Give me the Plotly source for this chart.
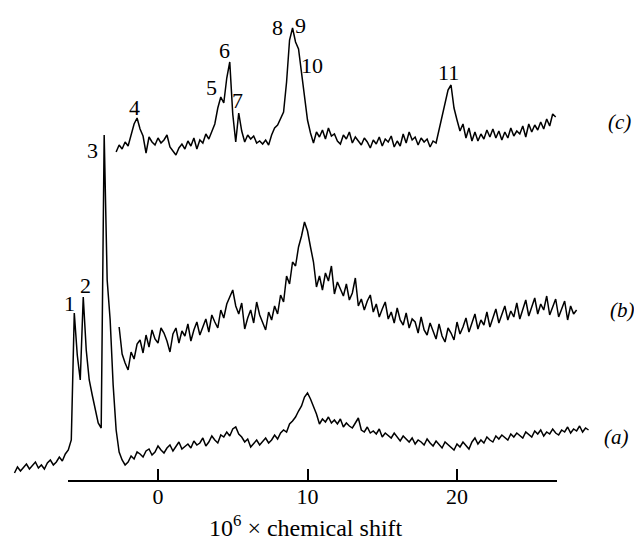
import plotly.graph_objects as go

# 10^6 x chemical shift sampling: start and step (ppm) for each recorded spectrum
a_start, a_step = -9.6, 0.2
b_start, b_step = -2.6, 0.2
c_start, c_step = -2.8, 0.2

# spectrum (a) intensity (arbitrary units, incl. vertical offset)
spec_a = [7, 13, 9, 12, 16, 11, 14, 18, 12, 15, 11, 17, 20, 15, 18, 23, 19, 26, 30, 40,
          167, 125, 100, 183, 130, 100, 85, 72, 57, 52, 345, 200, 160, 95, 50, 28,
          20, 15, 18, 24, 21, 28, 26, 23, 29, 31, 25, 28, 34, 30, 27, 32, 35, 29, 33, 38,
          31, 34, 36, 32, 39, 35, 37, 42, 34, 38, 44, 40, 37, 45, 43, 48, 44, 51, 53, 46,
          43, 38, 41, 33, 37, 40, 35, 38, 42, 37, 40, 45, 41, 47, 50, 48, 56, 59, 63, 69,
          74, 83, 87, 81, 74, 66, 56, 61, 58, 63, 57, 60, 56, 61, 53, 57, 54, 52, 57, 62,
          50, 48, 53, 47, 49, 46, 51, 43, 47, 44, 42, 47, 43, 39, 44, 41, 38, 42, 36, 40,
          38, 35, 41, 37, 34, 39, 36, 32, 38, 35, 33, 30, 36, 33, 38, 35, 31, 38, 42, 36,
          40, 37, 43, 40, 38, 44, 41, 45, 42, 40, 46, 43, 47, 44, 42, 48, 45, 43, 49, 46,
          50, 44, 48, 46, 51, 47, 45, 50, 48, 53, 47, 51, 49, 54, 48, 52, 50]

# spectrum (b)
spec_b = [153, 126, 117, 110, 128, 121, 136, 140, 127, 145, 133, 150, 141, 137, 152, 147,
          139, 128, 146, 152, 137, 149, 144, 156, 139, 150, 158, 145, 153, 161, 148, 165,
          158, 152, 170, 162, 176, 184, 190, 174, 166, 177, 151, 162, 170, 157, 178, 165,
          158, 150, 168, 160, 174, 166, 185, 178, 204, 196, 218, 214, 233, 244, 258, 249,
          233, 218, 193, 204, 190, 207, 199, 214, 186, 198, 191, 184, 196, 180, 187, 202,
          174, 181, 170, 179, 185, 168, 176, 163, 171, 178, 161, 168, 157, 172, 160, 155,
          167, 152, 161, 158, 147, 163, 150, 145, 157, 149, 141, 156, 144, 138, 152, 147,
          140, 158, 146, 153, 162, 148, 157, 166, 151, 160, 155, 168, 153, 162, 171, 157,
          165, 174, 160, 169, 163, 177, 161, 170, 180, 164, 173, 182, 166, 176, 170, 184,
          165, 174, 181, 163, 172, 179, 160, 174, 166, 170]

# spectrum (c)
spec_c = [328, 335, 331, 338, 334, 346, 356, 362, 351, 344, 327, 343, 338, 335, 342, 337,
          340, 345, 333, 329, 325, 332, 336, 331, 339, 334, 342, 331, 340, 337, 346, 341,
          349, 356, 372, 383, 377, 402, 418, 366, 338, 367, 349, 338, 345, 341, 344, 337,
          339, 336, 340, 335, 345, 352, 355, 361, 368, 398, 440, 452, 438, 431, 408, 380,
          360, 347, 337, 348, 343, 350, 341, 352, 344, 346, 339, 336, 345, 341, 348, 337,
          343, 339, 335, 342, 338, 332, 340, 336, 343, 334, 341, 338, 344, 333, 339, 334,
          346, 337, 348, 340, 343, 335, 342, 338, 341, 333, 339, 337, 350, 364, 378, 390,
          395, 372, 360, 349, 356, 342, 352, 339, 348, 339, 346, 341, 350, 343, 351, 342,
          349, 340, 348, 342, 352, 344, 349, 346, 354, 343, 356, 348, 355, 350, 358, 351,
          361, 354, 366, 363]

# peak numbers and their label positions (ppm, intensity)
peak_labels = ["1", "2", "3", "4", "5", "6", "7", "8", "9", "10", "11"]
peak_x = [-5.89, -4.88, -4.35, -1.54, 3.61, 4.48, 5.35, 7.96, 9.5, 10.3, 19.46]
peak_y = [177, 195, 330, 373, 393, 430, 380, 453, 455, 415, 408]

series_labels = ["(a)", "(b)", "(c)"]
series_label_x = [30.7, 31.04, 30.84]
series_label_y = [43, 170, 358]

tick_vals = [0, 10, 20]
tick_text = ["0", "10", "20"]

W, H = 634, 540
PX0, PX_PER = 158.0, 14.95   # position of 0 and pixels per unit
AX_L, AX_R = 68, 557          # drawn axis extent (pixels)
BOTTOM = 60

SERIF = "Liberation Serif, Times New Roman, serif"

fig = go.Figure()
line = dict(color="black", width=1.5)
fig.add_trace(go.Scatter(y=spec_a, x0=a_start, dx=a_step, mode="lines", line=line,
                         xaxis="x2", yaxis="y", showlegend=False, hoverinfo="skip"))
fig.add_trace(go.Scatter(y=spec_b, x0=b_start, dx=b_step, mode="lines", line=line,
                         xaxis="x2", yaxis="y", showlegend=False, hoverinfo="skip"))
fig.add_trace(go.Scatter(y=spec_c, x0=c_start, dx=c_step, mode="lines", line=line,
                         xaxis="x2", yaxis="y", showlegend=False, hoverinfo="skip"))
# invisible traces so the drawn axes are rendered
for ax in ["x", "x3"]:
    fig.add_trace(go.Scatter(x=[tick_vals[0]], y=[0], mode="markers", marker=dict(opacity=0),
                             xaxis=ax, yaxis="y", showlegend=False, hoverinfo="skip"))

for t, px, py in zip(peak_labels, peak_x, peak_y):
    fig.add_annotation(x=px, y=py, xref="x2", yref="y", text=t, showarrow=False,
                       xanchor="center", yanchor="middle",
                       font=dict(family=SERIF, size=22, color="black"))
for t, px, py in zip(series_labels, series_label_x, series_label_y):
    fig.add_annotation(x=px, y=py, xref="x2", yref="y", text="<i>" + t + "</i>", showarrow=False,
                       xanchor="center", yanchor="middle",
                       font=dict(family=SERIF, size=21, color="black"))

fig.add_annotation(x=306 / W, y=-46 / 480, xref="paper", yref="paper",
                   xanchor="center", yanchor="middle",
                   text="10<sup>6</sup> × chemical shift", showarrow=False,
                   font=dict(family=SERIF, size=24, color="black"))

xr = [(AX_L - PX0) / PX_PER, (AX_R - PX0) / PX_PER]
fig.update_layout(
    width=W, height=H,
    margin=dict(l=0, r=0, t=0, b=BOTTOM),
    paper_bgcolor="white", plot_bgcolor="rgba(0,0,0,0)",
    xaxis=dict(domain=[AX_L / W, AX_R / W], anchor="y", range=xr,
               showline=True, linecolor="black", linewidth=1.5,
               ticks="", tickvals=tick_vals, ticktext=tick_text, ticklabelstandoff=-4,
               tickfont=dict(family=SERIF, size=22, color="black"),
               showgrid=False, zeroline=False),
    xaxis3=dict(overlaying="x", side="top", anchor="free", position=0,
                range=xr, showline=False, ticks="outside", ticklen=11, tickwidth=1.5,
                tickcolor="black", tickvals=tick_vals, showticklabels=False,
                showgrid=False, zeroline=False),
    xaxis2=dict(domain=[0, 1], anchor="y",
                range=[(0 - PX0) / PX_PER, (W - PX0) / PX_PER],
                visible=False, showgrid=False, zeroline=False),
    yaxis=dict(domain=[0, 1], range=[0, 480], visible=False,
               showgrid=False, zeroline=False),
)

fig.write_html("out.html", post_script="document.body.style.margin='0px';",
               config={"displayModeBar": False})
